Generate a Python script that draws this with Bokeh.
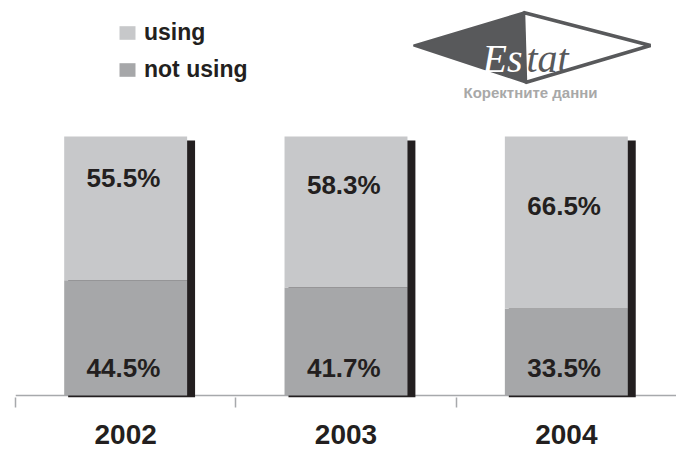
from bokeh.plotting import figure
from bokeh.models import (Range1d, LinearAxis, FixedTicker, Legend, LegendItem, Span,
                          PolyAnnotation, Label, ColumnDataSource)
from bokeh.core.properties import value
from bokeh.embed import file_html
from bokeh.resources import INLINE

# ---- data ----
years = ["2002", "2003", "2004"]
using = [55.5, 58.3, 66.5]
not_using = [44.5, 41.7, 33.5]
series_names = ["using", "not using"]

# ---- layout / style ----
W, H = 676, 450
FL, FB = 15, 397          # frame left / bottom (px)
Y0, Y100 = 395, 136        # pixel rows of 0 and 100
ppu = (Y0 - Y100) / 100.0
y_end = Y0 / ppu
y_start = -(FB - Y0) / ppu

LIGHT = "#c7c8ca"
DARK = "#a6a7a9"
INK = "#231f20"
AXIS = "#a7a9ac"
LOGO = "#58595b"
FONT = "'Liberation Sans Narrow', 'Arial Narrow', 'Liberation Sans', sans-serif"

n = len(years)
xc = [i + 0.5 for i in range(n)]   # category centres on a numeric scale
total = [a + b for a, b in zip(using, not_using)]
src = ColumnDataSource(dict(x=xc, xs=[x + 0.027 for x in xc],
                            using=using, not_using=not_using, total=total))

p = figure(width=W, height=H, x_range=Range1d(0, n), y_range=Range1d(y_start, y_end),
           output_backend="svg", toolbar_location=None,
           min_border_left=FL, min_border_right=0, min_border_top=0,
           min_border_bottom=H - FB,
           outline_line_color=None, x_axis_location=None, y_axis_location=None)
for g in p.grid:
    g.visible = False

# baseline
p.add_layout(Span(location=0, dimension="width", line_color=AXIS, line_width=1.5,
                  level="underlay"))

# shadows
p.vbar(x="xs", bottom=y_start, top=100 - 4 / ppu, width=0.576, source=src,
       fill_color=INK, line_color=None)

# stacked bars
r_not = p.vbar(x="x", bottom=0, top="not_using", width=0.558, source=src,
               fill_color=DARK, line_color=None)
r_use = p.vbar(x="x", bottom="not_using", top="total", width=0.558, source=src,
               fill_color=LIGHT, line_color=None)

# value labels
lab_src = ColumnDataSource(dict(
    x=[x - 0.01 for x in xc] * 2,
    y=[v + 39.5 for v in not_using] + [10.5] * n,
    text=[f"{v:.1f}%" for v in using] + [f"{v:.1f}%" for v in not_using],
))
p.text(x="x", y="y", text="text", source=lab_src,
       text_align="center", text_baseline="middle", text_color=INK,
       text_font=value(FONT), text_font_style="bold", text_font_size="26px")

# legend
legend = Legend(items=[LegendItem(label=series_names[0], renderers=[r_use]),
                       LegendItem(label=series_names[1], renderers=[r_not])],
                location=(117 - FL, FB - 83), orientation="vertical",
                glyph_width=20, glyph_height=17, label_standoff=7, spacing=10,
                padding=0, margin=0, border_line_color=None, background_fill_alpha=0,
                label_text_font="Liberation Sans", label_text_font_style="bold",
                label_text_font_size="23px", label_text_color=INK)
p.add_layout(legend)

# axes: boundary ticks + category labels
tick_axis = LinearAxis(ticker=FixedTicker(ticks=list(range(n)), minor_ticks=[]),
                       axis_line_color=None, major_tick_in=0, major_tick_out=10,
                       major_tick_line_color=AXIS, major_tick_line_width=1.5,
                       minor_tick_line_color=None, major_label_text_color=None,
                       major_label_text_font_size="1px", major_label_standoff=0)
p.add_layout(tick_axis, "below")
cat_axis = LinearAxis(ticker=FixedTicker(ticks=xc, minor_ticks=[]),
                      major_label_overrides={x: y for x, y in zip(xc, years)},
                      axis_line_color=None, major_tick_line_color=None,
                      minor_tick_line_color=None,
                      major_tick_in=0, major_tick_out=0, major_label_standoff=17,
                      major_label_text_font=FONT, major_label_text_font_style="bold",
                      major_label_text_font_size="28px", major_label_text_color=INK)
p.add_layout(cat_axis, "below")

# logo (decoration, screen units relative to frame)
def sx(px):
    return px - FL

def sy(py):
    return FB - py

p.add_layout(PolyAnnotation(xs=[sx(523), sx(650), sx(525)], ys=[sy(12), sy(45), sy(82)],
                            xs_units="screen", ys_units="screen",
                            fill_color="white", fill_alpha=1, line_color=LOGO,
                            line_alpha=1, line_width=3.5))
p.add_layout(PolyAnnotation(xs=[sx(413), sx(523), sx(525)], ys=[sy(45), sy(12), sy(82)],
                            xs_units="screen", ys_units="screen",
                            fill_color=LOGO, fill_alpha=1, line_color=LOGO,
                            line_alpha=1, line_width=2))
p.add_layout(Label(x=sx(522), y=sy(58), x_units="screen", y_units="screen", text="Es",
                   text_align="right", text_baseline="alphabetic", text_color="white",
                   text_font="Liberation Serif", text_font_style="italic",
                   text_font_size="40px"))
p.add_layout(Label(x=sx(526), y=sy(58), x_units="screen", y_units="screen", text="tat",
                   text_align="left", text_baseline="alphabetic", text_color=LOGO,
                   text_font="Liberation Serif", text_font_style="italic",
                   text_font_size="40px"))
p.add_layout(Label(x=sx(530), y=sy(92), x_units="screen", y_units="screen",
                   text="Коректните данни", text_align="center", text_baseline="middle",
                   text_color="#a8a8a8", text_font="Liberation Sans",
                   text_font_style="bold", text_font_size="15px"))

open("out.html", "w").write(file_html(p, INLINE))
